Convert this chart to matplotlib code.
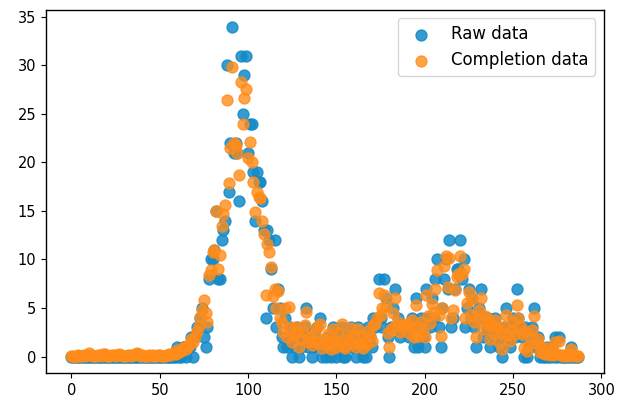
import matplotlib.pyplot as plt
import numpy as np

# raw observations, one per time step (0..287)
raw_data = [0] * 58 + [
    0, 0, 1, 0, 0, 1, 1, 0, 1, 1, 2, 0,
    2, 3, 3, 4, 5, 2, 1, 3, 8, 10,
    10, 11, 15, 8, 8, 12, 13, 14, 30, 17,
    22, 34, 21, 22, 21, 16, 31, 25, 29, 31,
    21, 24, 24, 19, 14, 19, 18, 18, 16, 13,
    4, 13, 12, 9, 5, 12, 3, 7, 5, 2,
    1, 4, 1, 2, 3, 0, 1, 2, 3, 0,
    1, 2, 3, 5, 1, 2, 0, 1, 2, 3,
    1, 4, 0, 1, 0, 2, 1, 0, 3, 1,
    0, 2, 1, 3, 0, 0, 2, 1, 3, 1,
    2, 0, 3, 1, 2, 0, 1, 0, 3, 2,
    1, 4, 3, 4, 8, 4, 3, 8, 6, 2,
    0, 3, 5, 7, 3, 4, 2, 3, 3, 3,
    3, 2, 3, 4, 1, 6, 1, 3, 4, 2,
    1, 7, 4, 3, 6, 4, 8, 10, 3, 1,
    5, 8, 10, 7, 12, 3, 4, 7, 9, 9,
    12, 8, 10, 3, 5, 7, 4, 6, 3, 1,
    4, 5, 7, 2, 4, 3, 4, 1, 3, 2,
    4, 3, 1, 2, 0, 3, 5, 2, 1, 3,
    4, 2, 7, 4, 3, 2, 0, 3, 0, 1,
    2, 3, 5, 1, 2, 0, 1, 0, 0, 1,
    0, 0, 1, 0, 2, 0, 2, 0, 0, 0,
    0, 0, 0, 1, 0, 0, 0, 0,
]

# completed series
completion_data = [
    0.05, 0.1, 0.0, 0.08, 0.12, 0.05, 0.1, 0.15, 0.1, 0.2,
    0.35, 0.15, 0.1, 0.05, 0.1, 0.2, 0.15, 0.1, 0.25, 0.3,
    0.1, 0.05, 0.1, 0.15, 0.2, 0.1, 0.15, 0.3, 0.2, 0.1,
    0.05, 0.1, 0.2, 0.15, 0.1, 0.2, 0.3, 0.35, 0.25, 0.1,
    0.15, 0.1, 0.05, 0.1, 0.2, 0.1, 0.15, 0.05, 0.1, 0.2,
    0.15, 0.1, 0.05, 0.1, 0.2, 0.25, 0.15, 0.3,
    0.4, 0.3, 0.7, 0.5, 0.6, 0.9, 1.0, 0.8, 1.1, 1.3, 1.8, 1.5,
    2.0, 2.6, 3.1, 4.1, 4.8, 5.8, 4.5, 3.6, 8.4, 8.9,
    10.8, 11.0, 15.0, 9.0, 10.5, 13.4, 14.7, 15.6, 26.4, 17.9,
    21.5, 29.8, 22.0, 21.8, 21.0, 18.7, 28.3, 24.0, 26.6, 27.6,
    20.5, 22.1, 20.0, 18.0, 14.9, 17.0, 16.4, 16.3, 14.0, 12.6,
    6.3, 11.6, 10.8, 9.2, 6.2, 7.0, 5.0, 6.8, 4.0, 3.5,
    2.5, 5.0, 2.0, 5.1, 3.0, 1.5, 2.2, 3.0, 2.6, 1.0,
    1.8, 2.5, 3.2, 4.6, 1.5, 2.0, 1.2, 1.6, 2.4, 3.0,
    1.4, 3.3, 0.9, 1.8, 1.2, 2.3, 1.5, 0.8, 2.8, 1.6,
    1.0, 2.4, 1.5, 3.3, 1.1, 0.9, 2.2, 1.7, 2.9, 1.3,
    2.0, 1.0, 2.8, 1.4, 2.2, 0.9, 1.5, 1.2, 2.6, 2.1,
    1.6, 3.2, 3.4, 4.0, 6.5, 4.3, 5.0, 6.3, 5.2, 2.4,
    1.0, 2.8, 4.5, 6.0, 3.2, 3.6, 2.5, 3.0, 3.2, 3.1,
    3.3, 2.4, 3.0, 3.8, 2.0, 5.3, 2.1, 3.0, 3.6, 2.5,
    2.0, 6.3, 4.2, 3.5, 5.4, 4.6, 7.0, 8.9, 4.3, 2.1,
    5.0, 9.3, 10.4, 7.2, 10.2, 4.0, 4.8, 6.9, 8.2, 8.5,
    10.4, 8.5, 9.0, 4.0, 5.5, 6.6, 4.3, 5.9, 3.6, 2.0,
    4.0, 4.8, 6.0, 2.8, 4.2, 3.3, 3.9, 1.8, 3.1, 2.4,
    3.8, 3.0, 1.5, 2.4, 0.8, 3.0, 4.3, 2.2, 1.6, 2.8,
    3.6, 2.3, 5.3, 4.0, 3.1, 2.3, 0.9, 2.6, 0.6, 1.2,
    2.0, 2.7, 4.2, 1.4, 1.8, 0.5, 1.0, 0.4, 0.3, 0.9,
    0.3, 0.2, 0.8, 0.2, 1.5, 0.3, 1.6, 0.2, 0.1, 0.2,
    0.1, 0.3, 0.1, 0.8, 0.2, 0.1, 0.1, 0.1,
]

x = np.arange(len(raw_data))

fig = plt.figure(figsize=(6.18, 4.01), dpi=100)
ax = fig.add_axes([0.0744, 0.0698, 0.9026, 0.905])

ax.scatter(x, raw_data, s=62, color='#138ac8', alpha=0.85, label='Raw data')
ax.scatter(x, completion_data, s=62, color='#ff8c1a', alpha=0.8, label='Completion data')

ax.set_yticks([0, 5, 10, 15, 20, 25, 30, 35])
ax.set_xticks([0, 50, 100, 150, 200, 250, 300])
ax.tick_params(labelsize=10.5)
for sp in ax.spines.values():
    sp.set_linewidth(1.0)
ax.legend(loc='upper right', fontsize=12)

fig.savefig('out.png')
